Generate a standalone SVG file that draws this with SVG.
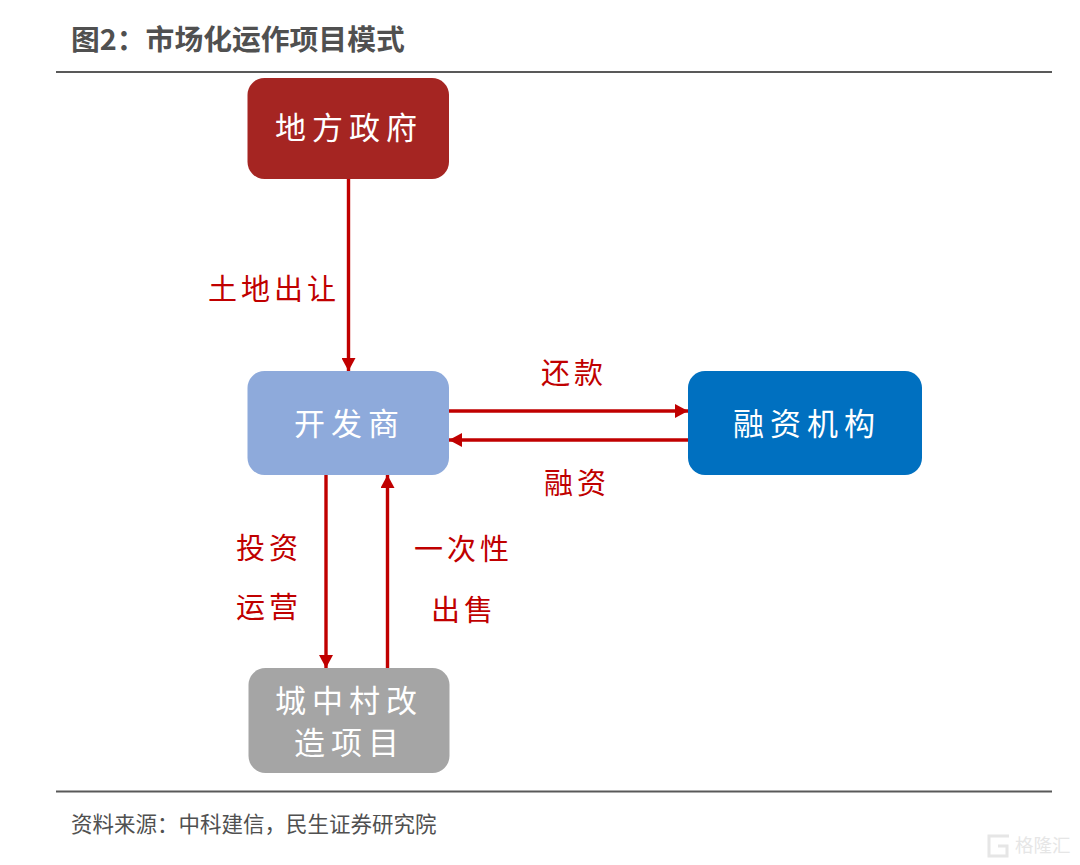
<svg xmlns="http://www.w3.org/2000/svg" width="1080" height="865" viewBox="0 0 1080 865">
<style>
text{font-family:"Noto Sans CJK SC","Noto Sans",sans-serif}
.rule{stroke:#595959;stroke-width:2;fill:none}
.title{font-size:28.8px;font-weight:700;fill:#505050}
.src{font-size:21.5px;fill:#505050}
.nt{font-size:31px;letter-spacing:6px;fill:#fff}
.lb{font-size:29px;letter-spacing:4px;fill:#c00000}
.c{stroke:#c00000;stroke-width:3.400;fill:none;marker-end:url(#a)}
.wm{font-size:18.500px;fill:#e6e6e6}
</style>
<defs>
<marker id="a" markerUnits="userSpaceOnUse" markerWidth="14" markerHeight="14" refX="13" refY="7" orient="auto">
<path d="M0,0L13,7L0,14Z" fill="#c00000"/>
</marker>
</defs>
<rect width="1080" height="865" fill="#fff"/>
<text class="title" x="71" y="50">图2：市场化运作项目模式</text>
<path class="rule" d="M56,72H1052M56,791.500H1052"/>
<g id="connectors">
<path class="c" d="M348.500,179V371"/>
<path class="c" d="M449,411H688"/>
<path class="c" d="M688,440H449"/>
<path class="c" d="M326,475V668"/>
<path class="c" d="M387.500,668V475"/>
</g>
<g id="node-gov"><rect x="247.500" y="78" width="201.500" height="101" rx="17" fill="#a52522"/><text class="nt" x="275" y="139">地方政府</text></g>
<g id="node-dev"><rect x="247.500" y="371" width="201.500" height="104" rx="17" fill="#8eaadb"/><text class="nt" x="294" y="435">开发商</text></g>
<g id="node-fin"><rect x="688" y="371" width="234" height="104" rx="17" fill="#0070c0"/><text class="nt" x="733" y="435">融资机构</text></g>
<g id="node-proj"><rect x="248.500" y="668" width="201" height="105" rx="17" fill="#a5a5a5"/><text class="nt" x="275" y="712">城中村改</text><text class="nt" x="294" y="754">造项目</text></g>
<g id="labels">
<text class="lb" x="208" y="300">土地出让</text>
<text class="lb" x="541" y="384">还款</text>
<text class="lb" x="544" y="494">融资</text>
<text class="lb" x="236" y="559">投资</text>
<text class="lb" x="236" y="618">运营</text>
<text class="lb" x="414" y="560">一次性</text>
<text class="lb" x="431" y="621">出售</text>
</g>
<text class="src" x="71" y="832">资料来源：中科建信，民生证券研究院</text>
<g id="watermark">
<path d="M1009,836H989V856H1007V846H998" fill="none" stroke="#e6e6e6" stroke-width="3"/>
<text class="wm" x="1015" y="852">格隆汇</text>
</g>
</svg>
